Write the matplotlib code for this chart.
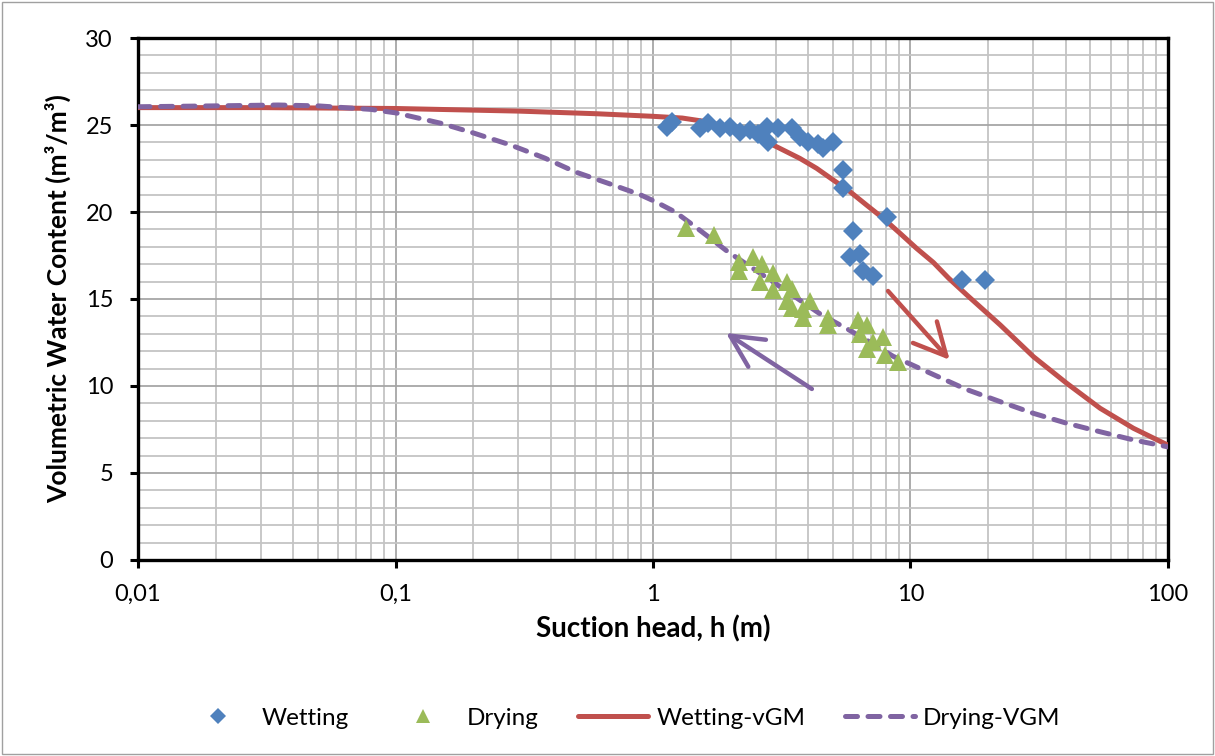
import numpy as np
import matplotlib
matplotlib.use('Agg')
import matplotlib.pyplot as plt
from matplotlib.ticker import FixedLocator, FixedFormatter, MultipleLocator, NullFormatter
from matplotlib.patches import Rectangle

plt.rcParams['font.family'] = ['Lato', 'DejaVu Sans']

# measured points (suction head in m, water content)
wet_h = [1.13, 1.19, 1.52, 1.64, 1.82, 1.99, 2.18, 2.38, 2.56, 2.77, 2.80, 3.06, 3.47, 3.72,
         4.00, 4.37, 4.57, 5.00, 5.47, 5.47, 8.11, 5.98, 5.82, 6.37, 6.54, 7.15, 15.85, 19.5]
wet_theta = [24.9, 25.2, 24.8, 25.1, 24.8, 24.9, 24.6, 24.7, 24.5, 24.9, 24.0, 24.8, 24.8, 24.3,
             24.0, 23.9, 23.7, 24.0, 22.4, 21.4, 19.7, 18.9, 17.4, 17.6, 16.6, 16.3, 16.1, 16.1]

dry_h = [1.34, 1.72, 2.16, 2.16, 2.44, 2.65, 2.60, 2.92, 2.92, 3.31, 3.47, 3.31, 3.47,
         3.82, 4.07, 3.82, 4.78, 4.78, 6.25, 6.78, 6.37, 7.82, 6.78, 7.96, 8.94, 7.15]
dry_theta = [19.1, 18.7, 17.1, 16.6, 17.4, 17.0, 16.0, 16.5, 15.5, 16.0, 15.6, 14.9, 14.5,
             14.4, 14.9, 13.9, 13.9, 13.5, 13.8, 13.5, 13.0, 12.8, 12.1, 11.8, 11.4, 12.5]

# fitted curves
wet_fit_h = [0.01, 0.03, 0.1, 0.3, 0.6, 1.0, 1.3, 1.6, 2.0, 2.5, 3.02, 3.72, 4.32, 5.01,
             5.82, 6.75, 7.83, 9.1, 10.56, 12.27, 14.08, 16.5, 22.3, 30, 40.4, 54.5, 73.4, 100]
wet_fit_theta = [26.0, 26.0, 25.95, 25.8, 25.65, 25.5, 25.4, 25.2, 24.85, 24.35, 23.75, 23.08,
                 22.51, 21.84, 21.17, 20.40, 19.64, 18.78, 17.91, 17.1, 16.19, 15.25, 13.51,
                 11.69, 10.16, 8.72, 7.57, 6.6]

dry_fit_h = [0.01, 0.02, 0.035, 0.05, 0.08, 0.1, 0.15, 0.2, 0.28, 0.38, 0.5, 0.7, 0.89, 1.02,
             1.22, 1.46, 1.96, 2.72, 3.5, 4.5, 5.65, 7.0, 8.58, 12.3, 16.5, 22.3, 30, 40.4,
             54.5, 73.4, 100]
dry_fit_theta = [26.05, 26.1, 26.15, 26.1, 25.9, 25.7, 25.1, 24.55, 23.85, 23.1, 22.3, 21.55,
                 21.0, 20.6, 20.0, 19.15, 17.7, 16.3, 15.2, 14.1, 13.3, 12.5, 11.7, 10.65, 9.8,
                 9.1, 8.43, 7.86, 7.37, 6.9, 6.5]

x_ticks = [0.01, 0.1, 1, 10, 100]
x_labels = ['0,01', '0,1', '1', '10', '100']

blue = '#4F81BD'
green = '#9BBB59'
red = '#C0504D'
purple = '#8064A2'

fig = plt.figure(figsize=(12.15, 7.56), dpi=100)
ax = fig.add_axes([0.1136, 0.2593, 0.8477, 0.6904])

ax.set_xscale('log')
ax.set_xlim(0.01, 100)
ax.set_ylim(0, 30)

ax.plot(wet_h, wet_theta, 'D', color=blue, markersize=10, markeredgewidth=0,
        label='Wetting', zorder=5)
ax.plot(dry_h, dry_theta, '^', color=green, markersize=13, markeredgewidth=0,
        label='Drying', zorder=5)
ax.plot(wet_fit_h, wet_fit_theta, '-', color=red, lw=3.6, solid_capstyle='round',
        solid_joinstyle='round', label='Wetting-vGM', zorder=4)
ax.plot(dry_fit_h, dry_fit_theta, color=purple, lw=3.6, linestyle=(0, (2.4, 2.1)),
        dash_capstyle='round', dash_joinstyle='round', label='Drying-VGM', zorder=4)

# direction arrows
ax.annotate('', xy=(14.2, 11.5), xytext=(8.18, 15.46),
            arrowprops=dict(arrowstyle='->', color=red, lw=3.2, mutation_scale=58,
                            shrinkA=0, shrinkB=0), zorder=6)
ax.annotate('', xy=(1.92, 13.05), xytext=(4.14, 9.83),
            arrowprops=dict(arrowstyle='->', color=purple, lw=3.2, mutation_scale=58,
                            shrinkA=0, shrinkB=0), zorder=6)

# ticks and grid
ax.xaxis.set_major_locator(FixedLocator(x_ticks))
ax.xaxis.set_major_formatter(FixedFormatter(x_labels))
minors = [m * 10.0 ** e for e in range(-2, 2) for m in range(2, 10)]
ax.xaxis.set_minor_locator(FixedLocator(minors))
ax.xaxis.set_minor_formatter(NullFormatter())
ax.yaxis.set_major_locator(MultipleLocator(5))
ax.yaxis.set_minor_locator(MultipleLocator(1))

ax.grid(which='major', color='#a6a6a6', lw=1.3)
ax.grid(which='minor', color='#c4c4c4', lw=1.3)
ax.set_axisbelow(True)

ax.tick_params(which='major', direction='out', length=6, width=2.2, labelsize=17)
ax.tick_params(axis='x', pad=11)
ax.tick_params(axis='y', pad=12)
ax.tick_params(which='minor', length=0)
for s in ax.spines.values():
    s.set_linewidth(2.4)
    s.set_color('black')

ax.set_xlabel('Suction head, h (m)', fontsize=20, fontweight='bold', labelpad=8)
ax.set_ylabel('Volumetric Water Content (m³/m³)', fontsize=19, fontweight='bold', labelpad=10)

fig.legend(loc='center', bbox_to_anchor=(0.512, 0.05), ncol=4, frameon=False, fontsize=17.5,
           handlelength=2.85, handletextpad=0.35, columnspacing=1.65, markerscale=0.8)

fig.add_artist(Rectangle((0.002, 0.003), 0.996, 0.994, transform=fig.transFigure,
                         fill=False, edgecolor='#a0a0a0', lw=1))

fig.savefig('out.png', dpi=100)
